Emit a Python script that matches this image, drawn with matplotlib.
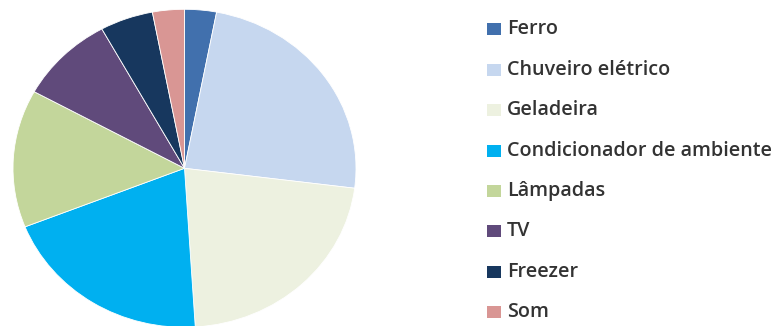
import matplotlib
matplotlib.use("Agg")
import matplotlib.pyplot as plt
from matplotlib.patches import Rectangle

labels = ["Ferro", "Chuveiro elétrico", "Geladeira", "Condicionador de ambiente",
          "Lâmpadas", "TV", "Freezer", "Som"]
values = [3, 24, 22, 20, 14, 9, 5, 3]
colors = ["#4170AD", "#C6D7EF", "#EDF1E0", "#00B0F0",
          "#C3D69B", "#604A7B", "#17375E", "#D99694"]

W, H = 775, 326
fig = plt.figure(figsize=(W / 100, H / 100), dpi=100)
fig.patch.set_facecolor("white")

# pie (slightly elliptical as in the reference)
cx, cy = 184.5, 168.3
rx, ry = 171.5, 159.0
ax = fig.add_axes([(cx - rx) / W, (H - cy - ry) / H, 2 * rx / W, 2 * ry / H])
ax.pie(values, colors=colors, startangle=90, counterclock=False, radius=1,
       wedgeprops=dict(edgecolor="white", linewidth=0.6))
ax.set_aspect("auto")
ax.set_xlim(-1, 1)
ax.set_ylim(-1, 1)
ax.axis("off")

# legend
x_sq, sq_w, sq_h = 487, 14, 12
x_txt = 507
y0, step = 29.3, 40.4
for i, (lab, col) in enumerate(zip(labels, colors)):
    yc = y0 + i * step
    fig.patches.append(Rectangle(((x_sq) / W, (H - yc - sq_h / 2) / H), sq_w / W, sq_h / H,
                                 transform=fig.transFigure, facecolor=col,
                                 edgecolor="none"))
    fig.text(x_txt / W, (H - yc) / H, lab, fontsize=14.2, family="Open Sans",
             weight=600, color="#333333", va="center", ha="left")

fig.savefig("out.png", dpi=100, facecolor="white")
